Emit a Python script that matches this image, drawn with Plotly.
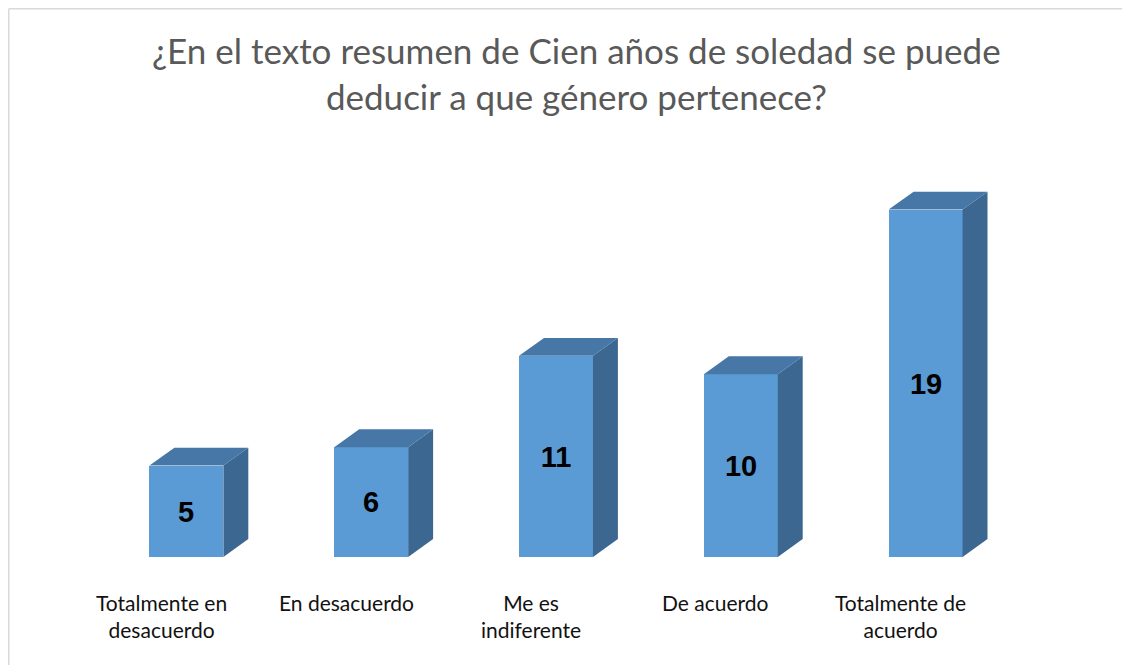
import plotly.graph_objects as go

categories = ["Totalmente en<br>desacuerdo", "En desacuerdo", "Me es<br>indiferente",
              "De acuerdo", "Totalmente de<br>acuerdo"]
values = [5, 6, 11, 10, 19]
title_text = "¿En el texto resumen de Cien años de soledad se puede<br>deducir a que género pertenece?"

FRONT = "#5B9BD5"
TOP = "#4677A6"
SIDE = "#3C6790"
half_w = 0.2
dx = 0.135
dy = 0.98

xs = list(range(len(values)))

side_x, side_y, top_x, top_y = [], [], [], []
for i, v in zip(xs, values):
    side_x += [i + half_w, i + half_w + dx, i + half_w + dx, i + half_w, i + half_w, None]
    side_y += [0, dy, v + dy, v, 0, None]
    top_x += [i - half_w, i + half_w, i + half_w + dx, i - half_w + dx, i - half_w, None]
    top_y += [v, v, v + dy, v + dy, v, None]

fig = go.Figure()
fig.add_trace(go.Scatter(x=side_x, y=side_y, fill="toself", fillcolor=SIDE, mode="lines",
                         line=dict(width=0, color=SIDE), hoverinfo="skip", showlegend=False))
fig.add_trace(go.Scatter(x=top_x, y=top_y, fill="toself", fillcolor=TOP, mode="lines",
                         line=dict(width=0, color=TOP), hoverinfo="skip", showlegend=False))
fig.add_trace(go.Bar(x=xs, y=values, width=2 * half_w, marker=dict(color=FRONT, line=dict(width=0)),
                     text=["<b>%d</b>" % v for v in values], textposition="inside",
                     insidetextanchor="middle",
                     textfont=dict(family="Liberation Sans", size=29, color="black"),
                     textangle=0, showlegend=False))

for i, c in zip(xs, categories):
    fig.add_annotation(x=i, y=0, xref="x", yref="y", text=c, showarrow=False,
                       xshift=-25, yshift=-31, yanchor="top",
                       font=dict(family="Lato", size=21, color="#111111"))

L, T, W, H = 86, 165, 924, 384
border_top = 1 + (T - 0.75) / H
border_left = (0.75 - L) / W
fig.add_shape(type="line", xref="paper", yref="paper",
              x0=border_left, x1=(1130 - L) / W, y0=border_top, y1=border_top,
              line=dict(color="#D9D9D9", width=1.5), layer="below")
fig.add_shape(type="line", xref="paper", yref="paper",
              x0=border_left, x1=border_left, y0=border_top, y1=-(665 - T - H) / H,
              line=dict(color="#D9D9D9", width=1.5), layer="below")

fig.update_layout(
    width=1130, height=665,
    margin=dict(l=L, r=1130 - L - W, t=T, b=665 - T - H),
    paper_bgcolor="white", plot_bgcolor="white",
    title=dict(text=title_text, x=0.503, xref="container", xanchor="center",
               y=1 - 56 / 665, yref="container", yanchor="middle",
               font=dict(family="Lato", size=35, color="#595959")),
    xaxis=dict(range=[-0.5, 4.5], visible=False, fixedrange=True),
    yaxis=dict(range=[0, 21], visible=False, fixedrange=True),
    bargap=0,
)

fig.write_html("out.html")
